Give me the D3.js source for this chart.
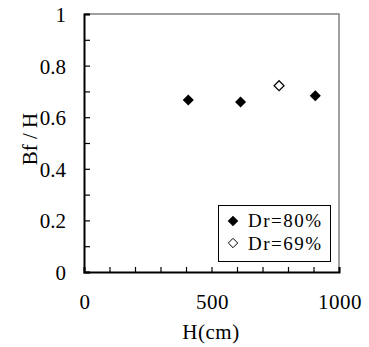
<!DOCTYPE html>
<html><head><meta charset="utf-8">
<script src="https://cdn.jsdelivr.net/npm/d3@7"></script>
<style>body{margin:0;background:#fff}</style>
</head><body>
<svg id="c" width="369" height="347"></svg>
<script>
const seriesNames = ["Dr=80%", "Dr=69%"];
const dr80H = [409, 614, 907];
const dr80V = [0.667, 0.659, 0.683];
const dr69H = [765];
const dr69V = [0.722];
const xTicks = [0, 500, 1000];
const yTicks = [0, 0.2, 0.4, 0.6, 0.8, 1];

const FONT = "Liberation Serif, Times New Roman, serif";
const svg = d3.select("#c");
const L = 84, R = 339, T = 14, B = 272;
const x = d3.scaleLinear().domain([0, 1000]).range([L, R]);
const y = d3.scaleLinear().domain([0, 1]).range([B, T]);
const fs = 21;
function txt(sel, size) { return sel.attr("font-family", FONT).attr("font-size", size || fs).attr("fill", "#000"); }

// frame top/right gray
svg.append("path").attr("d", `M${L},${T}H${R}V${B}`).attr("fill", "none").attr("stroke", "#808080").attr("stroke-width", 1.5);

// x axis
const xa = svg.append("g").attr("transform", `translate(0,${B})`)
  .call(d3.axisBottom(x).tickValues(d3.range(0, 1001, 100)).tickSize(-5).tickFormat(""));
xa.select(".domain").attr("stroke-width", 2);
xa.selectAll(".tick line").attr("stroke-width", 1.2);
txt(svg.append("g").selectAll("text").data(xTicks).join("text")
  .attr("x", d => x(d) + 1).attr("y", 309).attr("text-anchor", "middle")).attr("letter-spacing", 0.5).text(d => d);

// y axis
const ya = svg.append("g").attr("transform", `translate(${L},0)`)
  .call(d3.axisLeft(y).tickValues(d3.range(0, 1.01, 0.1)).tickSize(-6).tickFormat(""));
ya.select(".domain").attr("stroke-width", 2);
ya.selectAll(".tick line").attr("stroke-width", 1.2);
txt(svg.append("g").selectAll("text").data(yTicks).join("text")
  .attr("x", 66).attr("y", d => y(d) + 8).attr("text-anchor", "end")).text(d => d);

// axis titles
txt(svg.append("text").attr("transform", "translate(37,139) rotate(-90)").attr("text-anchor", "middle")).text("Bf / H");
txt(svg.append("text").attr("x", 211).attr("y", 339).attr("text-anchor", "middle")).attr("letter-spacing", 0.5).text("H(cm)");

// points
const sym = d3.symbol().type(d3.symbolDiamond2).size(78);
svg.append("g").selectAll("path").data(dr80H.map((h, i) => [h, dr80V[i]])).join("path")
  .attr("d", sym).attr("transform", d => `translate(${x(d[0])},${y(d[1])})`).attr("fill", "#000");
const symO = d3.symbol().type(d3.symbolDiamond2).size(64);
svg.append("g").selectAll("path").data(dr69H.map((h, i) => [h, dr69V[i]])).join("path")
  .attr("d", symO).attr("transform", d => `translate(${x(d[0])},${y(d[1])})`).attr("fill", "#fff").attr("stroke", "#000").attr("stroke-width", 1.2);

// legend
const lg = svg.append("g");
lg.append("rect").attr("x", 218.5).attr("y", 205.5).attr("width", 112).attr("height", 56).attr("fill", "#fff").attr("stroke", "#000").attr("stroke-width", 1);
lg.append("path").attr("d", d3.symbol().type(d3.symbolDiamond2).size(72)).attr("transform", "translate(233,221)").attr("fill", "#000");
lg.append("path").attr("d", d3.symbol().type(d3.symbolDiamond2).size(56)).attr("transform", "translate(233,243)").attr("fill", "#fff").attr("stroke", "#000").attr("stroke-width", 1);
txt(lg.selectAll("text.l").data(seriesNames).join("text").attr("class", "l")
  .attr("x", 248).attr("y", (d, i) => 227 + i * 22.5), 19).attr("letter-spacing", 1.5).text(d => d);
</script>
</body></html>
